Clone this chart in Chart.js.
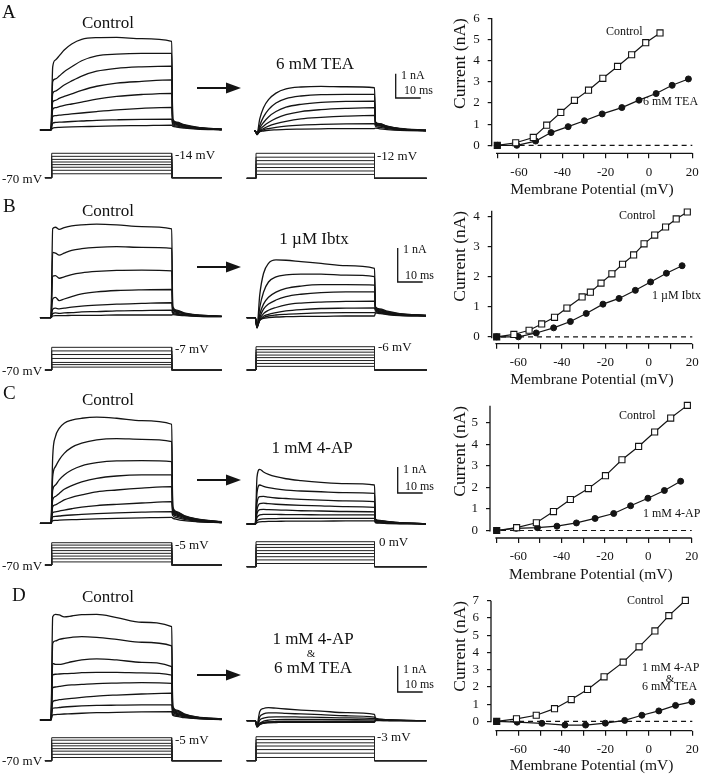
<!DOCTYPE html>
<html>
<head>
<meta charset="utf-8">
<script src="https://cdn.jsdelivr.net/npm/chart.js@4.4.1/dist/chart.umd.min.js"></script>
<style>
  body { margin: 0; background: #fff; }
  #fig { position: relative; width: 706px; height: 774px; overflow: hidden;
         font-family: "Liberation Serif", "Times New Roman", serif; color: #111; }
  #fig canvas { position: absolute; }
  .lbl { position: absolute; white-space: nowrap; line-height: 1; }
  #ann { position: absolute; left: 0; top: 0; }
</style>
</head>
<body>
<div id="fig"></div>
<script>
// ---- current traces: time points (ms) and currents (nA) ----
const tCtl   = [-4.7, -0.3, 0.4, 1.5, 3, 5, 8, 12, 18, 26, 36, 48, 48.4, 50, 53, 58, 68];
const tDrug  = [-3.7, -0.3, 0.4, 1.5, 3, 5, 8, 12, 18, 26, 36, 47.4, 47.8, 49.5, 52.5, 57.5, 68];
const tDrugA = [-0.8, -0.3, 0.4, 1.5, 3, 5, 8, 12, 18, 26, 36, 47.4, 47.8, 49.5, 52.5, 57.5, 68];

const ctlA = [
  [0,0, 2.6,2.88,3.05,3.29,3.54,3.73,3.8,3.81,3.76,3.65, 0.45,0.32,0.22,0.12,0.03],
  [0,0, 2.0,2.1,2.22,2.4,2.6,2.85,3.05,3.12,3.15,3.15, 0.42,0.3,0.2,0.11,0.03],
  [0,0, 1.5,1.6,1.7,1.85,2.02,2.22,2.42,2.54,2.6,2.63, 0.4,0.28,0.19,0.1,0.03],
  [0,0, 1.15,1.22,1.3,1.38,1.49,1.63,1.8,1.93,2.0,2.06, 0.36,0.26,0.17,0.09,0.02],
  [0,0, 0.85,0.92,0.96,1.01,1.07,1.15,1.27,1.38,1.46,1.51, 0.32,0.23,0.15,0.08,0.02],
  [0,0, 0.55,0.59,0.61,0.63,0.66,0.7,0.76,0.83,0.89,0.93, 0.27,0.2,0.13,0.07,0.02],
  [0,0, 0.28,0.31,0.32,0.33,0.35,0.37,0.4,0.42,0.44,0.45, 0.22,0.16,0.11,0.06,0.01],
  [0,0, 0.08,0.1,0.11,0.12,0.13,0.14,0.15,0.17,0.18,0.2, 0.16,0.12,0.08,0.04,0.01]
];
const teaA = [
  [0,0, -0.1,0.5,0.96,1.29,1.56,1.73,1.81,1.84,1.82,1.78, 0.38,0.3,0.2,0.11,0.03],
  [0,0, -0.13,0.23,0.58,0.88,1.15,1.33,1.44,1.5,1.51,1.51, 0.36,0.28,0.19,0.1,0.03],
  [0,0, -0.15,0.12,0.35,0.58,0.8,0.98,1.1,1.18,1.22,1.23, 0.33,0.26,0.17,0.09,0.02],
  [0,0, -0.15,0.05,0.2,0.35,0.52,0.67,0.8,0.88,0.93,0.96, 0.3,0.23,0.15,0.08,0.02],
  [0,0, -0.15,0.0,0.1,0.2,0.3,0.4,0.5,0.56,0.61,0.64, 0.26,0.2,0.13,0.07,0.02],
  [0,0, -0.12,-0.02,0.05,0.1,0.15,0.2,0.24,0.27,0.29,0.3, 0.2,0.15,0.1,0.05,0.01],
  [0,0, -0.1,-0.03,0.0,0.03,0.05,0.07,0.08,0.09,0.1,0.1, 0.12,0.09,0.06,0.03,0.01]
];
const ctlB = [
  [0,0, 2.62,2.66,2.6,2.65,2.7,2.73,2.75,2.73,2.68,2.61, 0.33,0.22,0.14,0.08,0.04],
  [0,0, 1.92,1.9,1.84,1.9,1.98,2.03,2.07,2.09,2.07,2.04, 0.3,0.2,0.13,0.08,0.04],
  [0,0, 1.22,1.24,1.16,1.2,1.27,1.32,1.36,1.39,1.4,1.38, 0.27,0.18,0.12,0.07,0.04],
  [0,0, 0.55,0.6,0.5,0.55,0.62,0.7,0.76,0.8,0.82,0.83, 0.22,0.16,0.11,0.07,0.04],
  [0,0, 0.25,0.28,0.26,0.28,0.31,0.34,0.37,0.4,0.42,0.44, 0.17,0.13,0.09,0.06,0.04],
  [0,0, 0.12,0.14,0.13,0.14,0.15,0.17,0.18,0.2,0.21,0.22, 0.13,0.1,0.08,0.05,0.03],
  [0,0, 0.05,0.06,0.06,0.06,0.07,0.07,0.07,0.08,0.08,0.08, 0.09,0.08,0.06,0.04,0.03]
];
const ibtxB = [
  [0,0, -0.26,0.67,1.3,1.6,1.7,1.69,1.65,1.6,1.53,1.45, 0.32,0.26,0.19,0.12,0.07],
  [0,0, -0.3,0.3,0.75,1.05,1.2,1.26,1.28,1.28,1.25,1.21, 0.3,0.24,0.17,0.11,0.07],
  [0,0, -0.3,0.1,0.4,0.6,0.75,0.86,0.93,0.97,0.97,0.96, 0.28,0.22,0.16,0.1,0.07],
  [0,0, -0.3,0.0,0.25,0.4,0.52,0.62,0.69,0.74,0.76,0.76, 0.26,0.2,0.15,0.1,0.06],
  [0,0, -0.28,-0.05,0.12,0.22,0.3,0.38,0.43,0.46,0.48,0.49, 0.23,0.18,0.13,0.09,0.06],
  [0,0, -0.25,-0.08,0.04,0.1,0.15,0.2,0.24,0.27,0.28,0.29, 0.2,0.16,0.12,0.08,0.06],
  [0,0, -0.22,-0.08,0.0,0.05,0.08,0.1,0.12,0.14,0.15,0.15, 0.17,0.14,0.1,0.07,0.05],
  [0,0, -0.18,-0.06,-0.02,0.0,0.02,0.03,0.04,0.04,0.05,0.05, 0.14,0.12,0.09,0.06,0.05]
];
const ctlC = [
  [0,0, 2.56,3.33,3.65,3.85,3.97,4.04,4.08,4.04,3.95,3.81, 0.65,0.45,0.3,0.17,0.06],
  [0,0, 1.79,2.18,2.44,2.69,2.92,3.08,3.21,3.26,3.23,3.14, 0.6,0.42,0.28,0.16,0.05],
  [0,0, 1.28,1.47,1.67,1.86,2.05,2.21,2.33,2.4,2.41,2.37, 0.55,0.38,0.26,0.15,0.05],
  [0,0, 0.9,1.03,1.15,1.31,1.45,1.59,1.73,1.82,1.86,1.86, 0.5,0.35,0.24,0.13,0.04],
  [0,0, 0.64,0.71,0.79,0.9,1.0,1.09,1.21,1.28,1.35,1.41, 0.45,0.32,0.22,0.12,0.04],
  [0,0, 0.41,0.44,0.47,0.51,0.56,0.62,0.68,0.73,0.78,0.83, 0.38,0.28,0.19,0.1,0.03],
  [0,0, 0.25,0.27,0.28,0.3,0.32,0.34,0.37,0.4,0.43,0.45, 0.3,0.22,0.15,0.08,0.03],
  [0,0, 0.1,0.11,0.12,0.13,0.14,0.15,0.17,0.19,0.21,0.23, 0.2,0.15,0.1,0.06,0.02]
];
const apC = [
  [0,0, 1.8,2.1,2.0,1.91,1.82,1.74,1.67,1.6,1.55,1.5, 0.18,0.14,0.1,0.05,0.01],
  [0,0, 1.2,1.5,1.45,1.4,1.35,1.3,1.27,1.24,1.21,1.18, 0.16,0.12,0.09,0.05,0.01],
  [0,0, 0.8,1.05,1.06,1.03,1.0,0.98,0.95,0.92,0.89,0.86, 0.14,0.11,0.08,0.04,0.01],
  [0,0, 0.55,0.78,0.8,0.78,0.76,0.74,0.72,0.7,0.67,0.64, 0.12,0.09,0.07,0.04,0.01],
  [0,0, 0.4,0.55,0.56,0.55,0.54,0.53,0.51,0.5,0.48,0.47, 0.1,0.08,0.06,0.03,0.01],
  [0,0, 0.25,0.35,0.37,0.37,0.37,0.36,0.36,0.35,0.35,0.35, 0.08,0.06,0.05,0.03,0.01],
  [0,0, 0.12,0.18,0.2,0.21,0.21,0.22,0.22,0.22,0.22,0.22, 0.06,0.05,0.04,0.02,0.01],
  [0,0, 0.05,0.08,0.09,0.1,0.1,0.11,0.11,0.11,0.12,0.12, 0.04,0.03,0.02,0.01,0.0]
];
const ctlD = [
  [0,0, 3.97,4.06,4.04,3.97,4.0,4.05,4.06,3.94,3.76,3.59, 0.55,0.38,0.24,0.12,0.04],
  [0,0, 2.95,3.04,3.1,3.14,3.18,3.21,3.18,3.1,2.99,2.85, 0.5,0.35,0.22,0.11,0.04],
  [0,0, 2.18,2.14,2.14,2.17,2.24,2.31,2.35,2.31,2.22,2.05, 0.45,0.32,0.2,0.1,0.04],
  [0,0, 1.73,1.76,1.77,1.78,1.79,1.82,1.83,1.83,1.81,1.73, 0.4,0.28,0.18,0.09,0.03],
  [0,0, 1.24,1.27,1.29,1.32,1.35,1.37,1.4,1.42,1.44,1.41, 0.35,0.25,0.16,0.08,0.03],
  [0,0, 0.7,0.75,0.78,0.8,0.83,0.87,0.92,0.96,1.0,1.03, 0.3,0.22,0.14,0.07,0.03],
  [0,0, 0.45,0.47,0.48,0.5,0.52,0.54,0.56,0.57,0.58,0.58, 0.24,0.18,0.12,0.06,0.02],
  [0,0, 0.2,0.21,0.22,0.23,0.24,0.26,0.28,0.29,0.31,0.32, 0.18,0.14,0.09,0.05,0.02]
];
const mixD = [
  [0,0, -0.15,0.35,0.47,0.5,0.48,0.45,0.41,0.37,0.31,0.24, 0.1,0.06,0.04,0.02,0.0],
  [0,0, -0.2,0.15,0.26,0.3,0.3,0.28,0.26,0.23,0.19,0.14, 0.08,0.05,0.03,0.01,0.0],
  [0,0, -0.22,0.02,0.1,0.14,0.15,0.15,0.14,0.13,0.11,0.08, 0.06,0.04,0.02,0.01,0.0],
  [0,0, -0.24,-0.1,-0.02,0.02,0.04,0.05,0.05,0.05,0.04,0.03, 0.04,0.03,0.02,0.01,0.0],
  [0,0, -0.25,-0.15,-0.09,-0.05,-0.03,-0.02,-0.02,-0.02,-0.02,-0.02, 0.02,0.02,0.01,0.0,0.0],
  [0,0, -0.22,-0.14,-0.1,-0.08,-0.07,-0.06,-0.06,-0.06,-0.06,-0.06, 0.01,0.01,0.0,0.0,0.0],
  [0,0, -0.15,-0.1,-0.07,-0.05,-0.04,-0.04,-0.04,-0.04,-0.04,-0.04, 0.0,0.0,0.0,0.0,0.0]
];

// ---- voltage steps (mV) of each protocol ----
const stepsActl  = [-61, -53, -46, -40, -34, -28, -21, -14];
const stepsAdrug = [-61, -53, -45, -37, -29, -21, -12];
const stepsBctl  = [-62, -55, -49, -38, -27, -17, -7];
const stepsBdrug = [-60, -52, -44, -36, -29, -21, -14, -6];
const stepsCctl  = [-61, -52, -44, -36, -28, -20, -12, -5];
const stepsCdrug = [-61, -51, -42, -33, -25, -16, -8, 0];
const stepsDctl  = [-61, -52, -43, -36, -28, -21, -12, -5];
const stepsDdrug = [-61, -49, -39, -29, -20, -11, -3];

// ---- I-V curves: membrane potential (mV) and current (nA) ----
const ivA_vCtl = [-70, -61.5, -53.4, -47.2, -40.7, -34.4, -27.9, -21.3, -14.5, -8, -1.5, 5.1];
const ivA_iCtl = [0, 0.12, 0.37, 0.95, 1.55, 2.12, 2.6, 3.16, 3.72, 4.27, 4.84, 5.3];
const ivA_vTea = [-70, -61, -52.3, -45.2, -37.3, -29.8, -21.6, -12.5, -4.6, 3.3, 10.7, 18.2];
const ivA_iTea = [0, 0, 0.2, 0.6, 0.88, 1.16, 1.48, 1.78, 2.13, 2.44, 2.83, 3.13];

const ivB_vCtl = [-70, -62.1, -55.1, -49.3, -43.4, -37.7, -30.7, -26.9, -22, -17, -12.1, -7, -2.2, 2.7, 7.7, 12.6, 17.7];
const ivB_iCtl = [0, 0.08, 0.22, 0.43, 0.65, 0.96, 1.33, 1.49, 1.79, 2.1, 2.42, 2.73, 3.1, 3.39, 3.66, 3.93, 4.16];
const ivB_vIbtx = [-70, -60, -51.8, -43.8, -36.1, -28.8, -21.1, -13.7, -6.2, 0.8, 8.1, 15.3];
const ivB_iIbtx = [0, 0, 0.13, 0.3, 0.51, 0.78, 1.09, 1.28, 1.55, 1.83, 2.12, 2.37];

const ivC_vCtl = [-70, -60.8, -51.7, -43.8, -36, -27.7, -19.8, -12.2, -4.5, 2.9, 10.3, 18];
const ivC_iCtl = [0, 0.13, 0.36, 0.88, 1.44, 1.95, 2.55, 3.29, 3.91, 4.58, 5.23, 5.82];
const ivC_vAp = [-70, -61, -51.2, -42.2, -33.2, -24.6, -16, -8.2, -0.2, 7.4, 14.9];
const ivC_iAp = [0, 0.1, 0.13, 0.2, 0.35, 0.56, 0.79, 1.15, 1.5, 1.86, 2.29];

const ivD_vCtl = [-70, -60.9, -51.8, -43.4, -35.7, -28.2, -20.6, -11.8, -4.5, 2.8, 9.2, 16.8];
const ivD_iCtl = [0, 0.15, 0.36, 0.74, 1.27, 1.86, 2.59, 3.44, 4.33, 5.25, 6.14, 7.02];
const ivD_vMix = [-70, -60.6, -49.2, -38.6, -29.1, -20, -11.1, -3.2, 4.6, 12.3, 19.8];
const ivD_iMix = [0, -0.04, -0.11, -0.21, -0.21, -0.1, 0.06, 0.36, 0.61, 0.93, 1.14];

// ---------------------------------------------------------------
const fig = document.getElementById("fig");
const SERIF = '"Liberation Serif", "Times New Roman", serif';
const PX_MS = 2.5;          // 10 ms = 25 px
const INK = "#141414";

function addCanvas(l, t, w, h) {
  const c = document.createElement("canvas");
  c.width = w; c.height = h;
  c.style.left = l + "px"; c.style.top = t + "px";
  c.style.width = w + "px"; c.style.height = h + "px";
  fig.appendChild(c);
  return c.getContext("2d");
}

function text(str, x, y, size, anchor) {
  const d = document.createElement("div");
  d.className = "lbl";
  d.textContent = str;
  d.style.fontSize = size + "px";
  d.style.left = x + "px";
  d.style.top = y + "px";
  d.style.transform = anchor === "c" ? "translate(-50%,-50%)" : "translate(0,-50%)";
  fig.appendChild(d);
}

const baseOpts = {
  responsive: false, animation: false, devicePixelRatio: 1, events: [],
  plugins: { legend: { display: false }, tooltip: { enabled: false } }
};

// chart with hidden axes whose scales are pinned to page pixels
function bareChart(l, t, w, h, x0, sx, y0, sy, datasets) {
  l = Math.round(l); t = Math.round(t); w = Math.round(w); h = Math.round(h);
  const ctx = addCanvas(l, t, w, h);
  return new Chart(ctx, {
    type: "line",
    data: { datasets: datasets },
    options: Object.assign({}, baseOpts, {
      layout: { padding: 0 },
      scales: {
        x: { type: "linear", display: false, min: (l - x0) / sx, max: (l + w - x0) / sx },
        y: { type: "linear", display: false, min: (y0 - t - h) / sy, max: (y0 - t) / sy }
      }
    })
  });
}

function traceChart(l, t, w, h, x0, y0, sy, times, traces) {
  const ds = traces.map(tr => ({
    data: tr.map((v, i) => ({ x: times[i], y: v })),
    borderColor: INK, borderWidth: 1.3, pointRadius: 0,
    cubicInterpolationMode: "monotone", clip: false
  }));
  bareChart(l, t, w, h, x0, PX_MS, y0, sy, ds);
}

function protocolChart(l, x0, base, sv, tStart, tOff, tEnd, steps) {
  const ds = steps.map(v => ({
    data: [{ x: tStart, y: -70 }, { x: 0, y: -70 }, { x: 0, y: v },
           { x: tOff, y: v }, { x: tOff, y: -70 }, { x: tEnd, y: -70 }],
    borderColor: "#222", borderWidth: 1, pointRadius: 0, tension: 0, clip: false
  }));
  // pixel of 0 mV so that -70 mV sits on the base line
  bareChart(l, base - 36, 200, 44, x0, PX_MS, base - 70 * sv, sv, ds);
}

// Igor-like axis lines: y from 0 up, x from -70 to 20
const axisLines = {
  id: "axisLines",
  afterDraw(chart, args, o) {
    const { ctx, chartArea, scales } = chart;
    ctx.save();
    ctx.strokeStyle = INK; ctx.lineWidth = 1.3;
    ctx.beginPath();
    ctx.moveTo(chartArea.left, scales.y.getPixelForValue(-0.05));
    ctx.lineTo(chartArea.left, scales.y.getPixelForValue(o.yTop));
    ctx.moveTo(scales.x.getPixelForValue(-70.6), chartArea.bottom);
    ctx.lineTo(scales.x.getPixelForValue(20), chartArea.bottom);
    ctx.stroke();
    ctx.restore();
  }
};

function ivChart(top, g, yTop, vC, iC, vD, iD) {
  const l = 440, w = 266, h = Math.round(g.bottom - top);
  const pxMv = (g.x20 - g.x70) / 90;
  const xmin = -70 - (g.x70 - g.ax) / pxMv;
  const ymin = -(g.xAxisY - g.y0) / g.sy;
  const areaTop = g.y0 - yTop * g.sy;
  const ctx = addCanvas(l, top, w, h);
  const tickFont = { family: SERIF, size: 13 };
  new Chart(ctx, {
    type: "line",
    data: {
      datasets: [
        {
          data: vC.map((v, i) => ({ x: v, y: iC[i] })),
          borderColor: INK, borderWidth: 1.2, tension: 0,
          pointStyle: "rect", pointRadius: 4.3, pointBorderWidth: 1.1,
          pointBorderColor: INK,
          pointBackgroundColor: vC.map((v, i) => (i === 0 ? INK : "#fff")),
          clip: false
        },
        {
          data: vD.map((v, i) => ({ x: v, y: iD[i] })),
          borderColor: INK, borderWidth: 1.2, tension: 0,
          pointStyle: "circle", pointRadius: 3, pointBorderWidth: 1,
          pointBorderColor: INK, pointBackgroundColor: INK, clip: false
        },
        {
          data: [{ x: -68, y: 0 }, { x: 20, y: 0 }],
          borderColor: INK, borderWidth: 1.2, borderDash: [5, 4],
          pointRadius: 0, clip: false
        }
      ]
    },
    options: Object.assign({}, baseOpts, {
      layout: { padding: { top: areaTop - top, right: l + w - g.x20, bottom: 0, left: 0 } },
      plugins: {
        legend: { display: false }, tooltip: { enabled: false },
        axisLines: { yTop: yTop }
      },
      scales: {
        x: {
          type: "linear", min: xmin, max: 20,
          afterFit: s => { s.height = g.bottom - g.xAxisY; },
          border: { display: false },
          grid: { drawOnChartArea: false, drawTicks: true, tickLength: 5, color: INK, lineWidth: 1.2 },
          ticks: {
            stepSize: 10, includeBounds: false, autoSkip: false, maxRotation: 0,
            padding: 6, color: INK, font: tickFont,
            callback: v => (v % 20 === 0 ? String(v) : "")
          },
          title: { display: true, text: "Membrane Potential (mV)", color: INK,
                   font: { family: SERIF, size: 15.5, lineHeight: 1 },
                   padding: { top: 0, bottom: g.titlePad } }
        },
        y: {
          type: "linear", min: ymin, max: yTop,
          afterFit: s => { s.width = g.ax - l; },
          border: { display: false },
          grid: { drawOnChartArea: false, drawTicks: true, tickLength: 4, color: INK, lineWidth: 1.2 },
          ticks: { stepSize: 1, includeBounds: false, autoSkip: false, padding: 8, color: INK, font: tickFont },
          title: { display: true, text: "Current (nA)", color: INK,
                   font: { family: SERIF, size: 17.5, lineHeight: 1 },
                   align: "end", padding: { top: 11.5, bottom: 0 } }
        }
      }
    }),
    plugins: [axisLines]
  });
}

// ---- annotations: arrows and scale bars ----
const NS = "http://www.w3.org/2000/svg";
const svg = document.createElementNS(NS, "svg");
svg.setAttribute("id", "ann");
svg.setAttribute("width", 706); svg.setAttribute("height", 774);
function arrow(y) {
  const p = document.createElementNS(NS, "path");
  p.setAttribute("d", `M197 ${y} L230 ${y}`);
  p.setAttribute("stroke", INK); p.setAttribute("stroke-width", 2.2);
  svg.appendChild(p);
  const h = document.createElementNS(NS, "path");
  h.setAttribute("d", `M226 ${y - 5.5} L241 ${y} L226 ${y + 5.5} Z`);
  h.setAttribute("fill", INK);
  svg.appendChild(h);
}
function scaleBar(x, bottom, pxPerNA) {
  const p = document.createElementNS(NS, "path");
  p.setAttribute("d", `M${x} ${bottom - pxPerNA} L${x} ${bottom} L${x + 10 * PX_MS} ${bottom}`);
  p.setAttribute("stroke", INK); p.setAttribute("stroke-width", 1.3); p.setAttribute("fill", "none");
  svg.appendChild(p);
}

// ---------------- row A ----------------
traceChart(30, 25, 200, 120, 51.7, 130, 24.3, tCtl, ctlA);
traceChart(238, 60, 200, 85, 256, 131, 24.3, tDrugA, teaA);
protocolChart(30, 51.7, 177.7, 0.436, -2.7, 48, 68, stepsActl);
protocolChart(238, 256, 178.3, 0.431, -3.7, 47.4, 68.3, stepsAdrug);
ivChart(0, { ax: 491.7, x70: 497.3, x20: 692.3, y0: 145.3, sy: 21.2, xAxisY: 153.3, bottom: 200, titlePad: 2.5 },
  6, ivA_vCtl, ivA_iCtl, ivA_vTea, ivA_iTea);

// ---------------- row B ----------------
traceChart(30, 210, 200, 120, 51.7, 317.7, 34, tCtl, ctlB);
traceChart(238, 240, 200, 92, 256, 317.7, 34, tDrug, ibtxB);
protocolChart(30, 51.7, 370, 0.36, -2.7, 48, 68, stepsBctl);
protocolChart(238, 256, 370, 0.364, -3.7, 47.4, 68.3, stepsBdrug);
ivChart(195, { ax: 491.7, x70: 496.7, x20: 692.3, y0: 336.7, sy: 30.7, xAxisY: 343.7, bottom: 390, titlePad: 2.5 },
  4.2, ivB_vCtl, ivB_iCtl, ivB_vIbtx, ivB_iIbtx);

// ---------------- row C ----------------
traceChart(30, 405, 200, 130, 51.7, 523.3, 26, tCtl, ctlC);
traceChart(238, 455, 200, 80, 256, 524, 26, tDrug, apC);
protocolChart(30, 51.7, 565, 0.343, -2.7, 48, 68, stepsCctl);
protocolChart(238, 256, 566.7, 0.357, -3.7, 47.4, 68.3, stepsCdrug);
ivChart(390, { ax: 490, x70: 496.7, x20: 691.7, y0: 530.3, sy: 22, xAxisY: 538, bottom: 585, titlePad: 2.5 },
  5.8, ivC_vCtl, ivC_iCtl, ivC_vAp, ivC_iAp);

// ---------------- row D ----------------
traceChart(30, 605, 200, 126, 51.7, 720, 26, tCtl, ctlD);
traceChart(238, 680, 200, 55, 256, 720.7, 26, tDrug, mixD);
protocolChart(30, 51.7, 760.7, 0.354, -2.7, 48, 68, stepsDctl);
protocolChart(238, 256, 760.7, 0.358, -3.7, 47.4, 68.3, stepsDdrug);
ivChart(585, { ax: 491, x70: 496.7, x20: 692.3, y0: 721.3, sy: 17.5, xAxisY: 730.7, bottom: 774, titlePad: 0 },
  7, ivD_vCtl, ivD_iCtl, ivD_vMix, ivD_iMix);

// arrows and scale bars
arrow(88); arrow(267); arrow(480); arrow(675);
scaleBar(395.7, 98, 24.3);
scaleBar(397.7, 282, 34);
scaleBar(397.7, 493, 26);
scaleBar(397.7, 692, 26);
fig.appendChild(svg);

// ---- text labels ----
text("A", 2, 11, 19, "l");
text("B", 3, 205, 19, "l");
text("C", 3, 392, 19, "l");
text("D", 12, 594, 19, "l");

text("Control", 108, 22, 17, "c");
text("Control", 108, 210, 17, "c");
text("Control", 108, 399, 17, "c");
text("Control", 108, 596, 17, "c");

text("6 mM TEA", 315, 63, 17, "c");
text("1 \u00b5M Ibtx", 314, 238, 17, "c");
text("1 mM 4-AP", 312, 447, 17, "c");
text("1 mM 4-AP", 313, 638, 17, "c");
text("&", 311, 653, 11, "c");
text("6 mM TEA", 313, 667, 17, "c");

text("1 nA", 401, 75, 12, "l");   text("10 ms", 404, 90, 12, "l");
text("1 nA", 403, 249, 12, "l");  text("10 ms", 405, 275, 12, "l");
text("1 nA", 403, 469, 12, "l");  text("10 ms", 405, 486, 12, "l");
text("1 nA", 403, 669, 12, "l");  text("10 ms", 405, 684, 12, "l");

text("-70 mV", 2, 177.5, 13, "l"); text("-14 mV", 175, 154, 13, "l"); text("-12 mV", 377, 155, 13, "l");
text("-70 mV", 2, 369.5, 13, "l"); text("-7 mV", 175, 347.5, 13, "l"); text("-6 mV", 378, 346, 13, "l");
text("-70 mV", 2, 564.5, 13, "l"); text("-5 mV", 175, 544, 13, "l"); text("0 mV", 379, 541, 13, "l");
text("-70 mV", 2, 759.5, 13, "l"); text("-5 mV", 175, 739, 13, "l"); text("-3 mV", 377, 736, 13, "l");

text("Control", 606, 31, 12, "l");   text("6 mM TEA", 643, 101, 12, "l");
text("Control", 619, 214.5, 12, "l"); text("1 \u00b5M Ibtx", 652, 294.5, 12, "l");
text("Control", 619, 415, 12, "l");   text("1 mM 4-AP", 643, 513, 12, "l");
text("Control", 627, 600, 12, "l");   text("1 mM 4-AP", 642, 667, 12, "l");
text("&", 670, 677.5, 11, "c");      text("6 mM TEA", 642, 686, 12, "l");
</script>
</body>
</html>
